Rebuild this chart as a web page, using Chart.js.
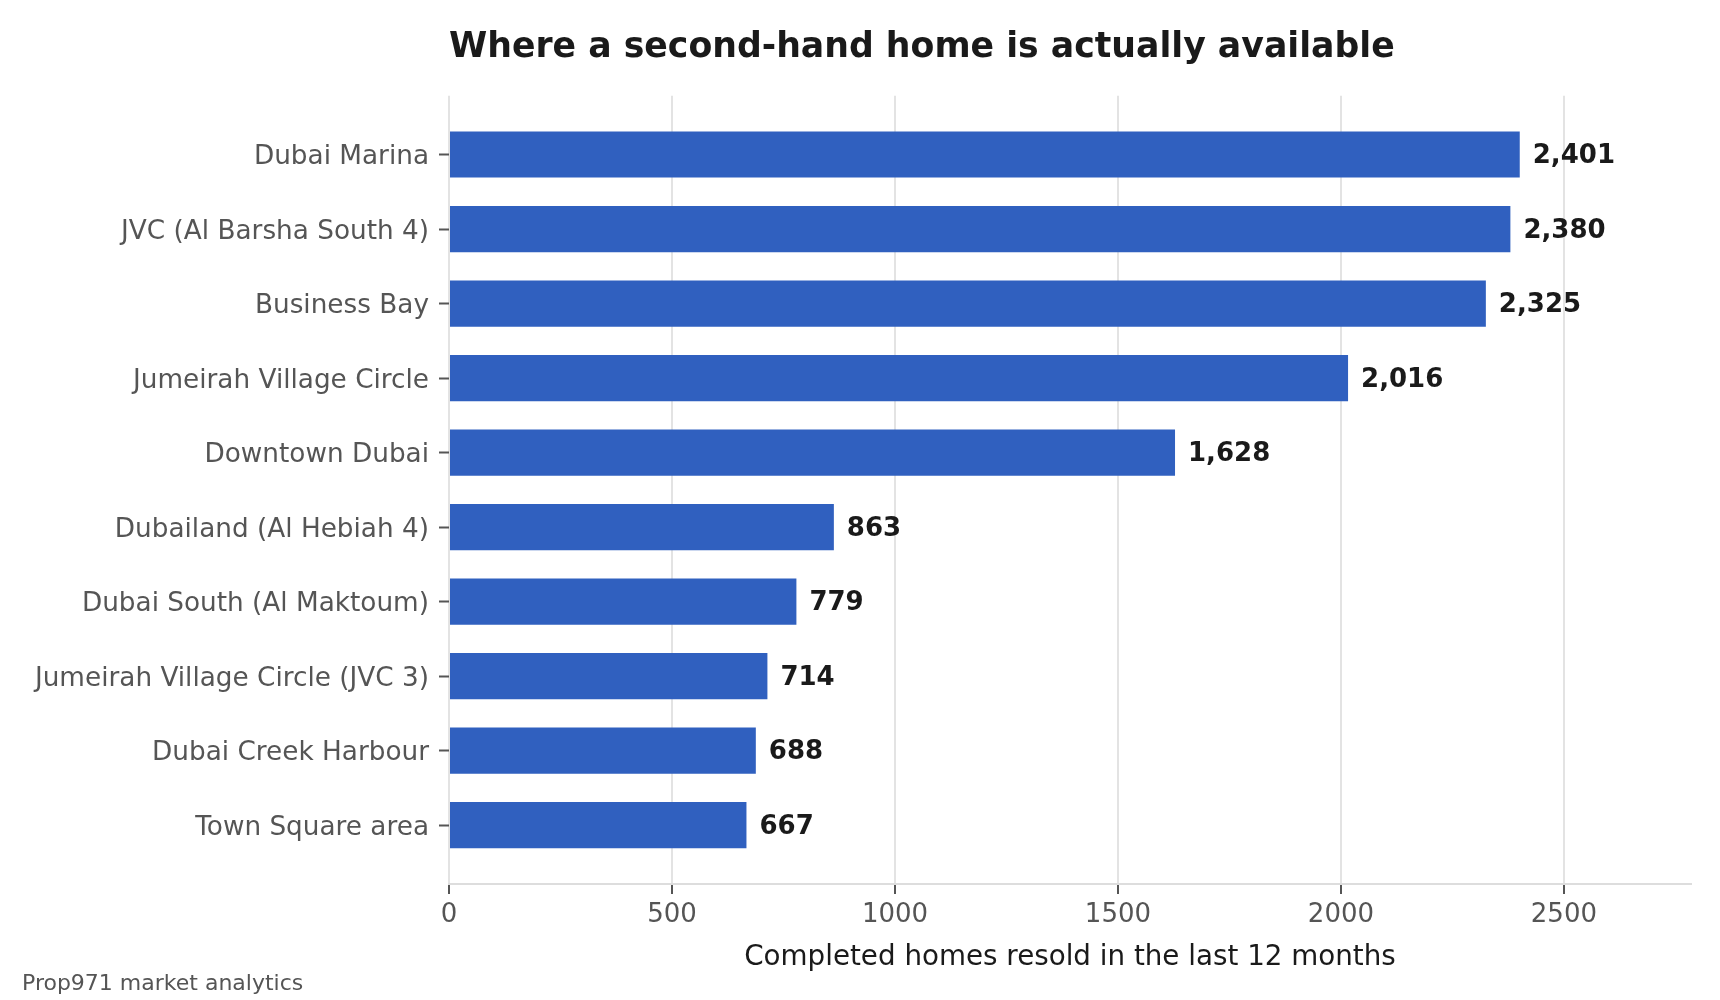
<!DOCTYPE html>
<html>
<head>
<meta charset="utf-8">
<title>Where a second-hand home is actually available</title>
<script src="https://cdn.jsdelivr.net/npm/chart.js@4.4.1/dist/chart.umd.min.js"></script>
<style>
  html, body { margin: 0; padding: 0; background: #ffffff; }
  #wrap { width: 1720px; height: 1000px; position: relative; }
</style>
</head>
<body>
<div id="wrap"><canvas id="resaleChart"></canvas></div>
<script>
// data
const areas = [
  'Dubai Marina',
  'JVC (Al Barsha South 4)',
  'Business Bay',
  'Jumeirah Village Circle',
  'Downtown Dubai',
  'Dubailand (Al Hebiah 4)',
  'Dubai South (Al Maktoum)',
  'Jumeirah Village Circle (JVC 3)',
  'Dubai Creek Harbour',
  'Town Square area'
];
const resold = [2401, 2380, 2325, 2016, 1628, 863, 779, 714, 688, 667];
const xTicks = [0, 500, 1000, 1500, 2000, 2500];
const xMax = 2785;

const font = 'DejaVu Sans';

// value labels at the end of each bar
const barValues = {
  id: 'barValues',
  afterDatasetsDraw(chart) {
    const ctx = chart.ctx;
    const meta = chart.getDatasetMeta(0);
    ctx.save();
    ctx.font = 'bold 26px "' + font + '"';
    ctx.fillStyle = '#1a1a1a';
    ctx.textAlign = 'left';
    ctx.textBaseline = 'middle';
    meta.data.forEach(function (bar, i) {
      ctx.fillText(resold[i].toLocaleString('en-US'), bar.x + 13, bar.y + 2);
    });
    ctx.restore();
  }
};

const ctx = document.getElementById('resaleChart');

new Chart(ctx, {
  type: 'bar',
  data: {
    datasets: [{
      label: 'Completed homes resold',
      data: resold.map(function (v, i) { return { x: v, y: i }; }),
      backgroundColor: '#3060bf',
      borderWidth: 0,
      barPercentage: 0.62,
      categoryPercentage: 1
    }]
  },
  options: {
    indexAxis: 'y',
    responsive: true,
    maintainAspectRatio: false,
    animation: false,
    layout: { padding: { left: 22, right: 29, top: 0, bottom: 0 } },
    plugins: {
      legend: { display: false },
      tooltip: { enabled: false },
      title: {
        display: true,
        text: 'Where a second-hand home is actually available',
        fullSize: false,
        align: 'start',
        color: '#1a1a1a',
        font: { family: font, size: 34.7, weight: 'bold', lineHeight: 1.2 },
        padding: { top: 27, bottom: 27 }
      },
      subtitle: {
        display: true,
        text: 'Prop971 market analytics',
        position: 'bottom',
        align: 'start',
        color: '#555555',
        font: { family: font, size: 22, lineHeight: 1 },
        padding: { top: 1, bottom: 5 }
      }
    },
    scales: {
      x: {
        type: 'linear',
        min: 0,
        max: xMax,
        afterBuildTicks: function (s) {
          s.ticks = xTicks.map(function (v) { return { value: v }; });
        },
        grid: {
          color: '#e3e3e3',
          lineWidth: 2,
          drawTicks: true,
          tickLength: 10,
          tickColor: '#555555',
          tickWidth: 2
        },
        border: { display: true, color: '#dddddd', width: 2 },
        ticks: {
          color: '#555555',
          padding: 6,
          font: { family: font, size: 26 },
          callback: function (v) { return String(v); }
        },
        title: {
          display: true,
          text: 'Completed homes resold in the last 12 months',
          color: '#1a1a1a',
          font: { family: font, size: 27.75, lineHeight: 1 },
          padding: { top: 7, bottom: 0 }
        }
      },
      y: {
        type: 'linear',
        reverse: true,
        offset: false,
        min: -0.79,
        max: 9.79,
        afterBuildTicks: function (s) {
          s.ticks = areas.map(function (a, i) { return { value: i }; });
        },
        afterFit: function (s) { s.width = 427; },
        grid: {
          offset: false,
          drawOnChartArea: false,
          drawTicks: true,
          tickLength: 10,
          tickColor: '#555555',
          tickWidth: 2
        },
        border: { display: false },
        ticks: {
          color: '#555555',
          padding: 10,
          labelOffset: 3,
          font: { family: font, size: 26.3 },
          callback: function (v) { return areas[v]; }
        }
      }
    }
  },
  plugins: [barValues]
});
</script>
</body>
</html>
